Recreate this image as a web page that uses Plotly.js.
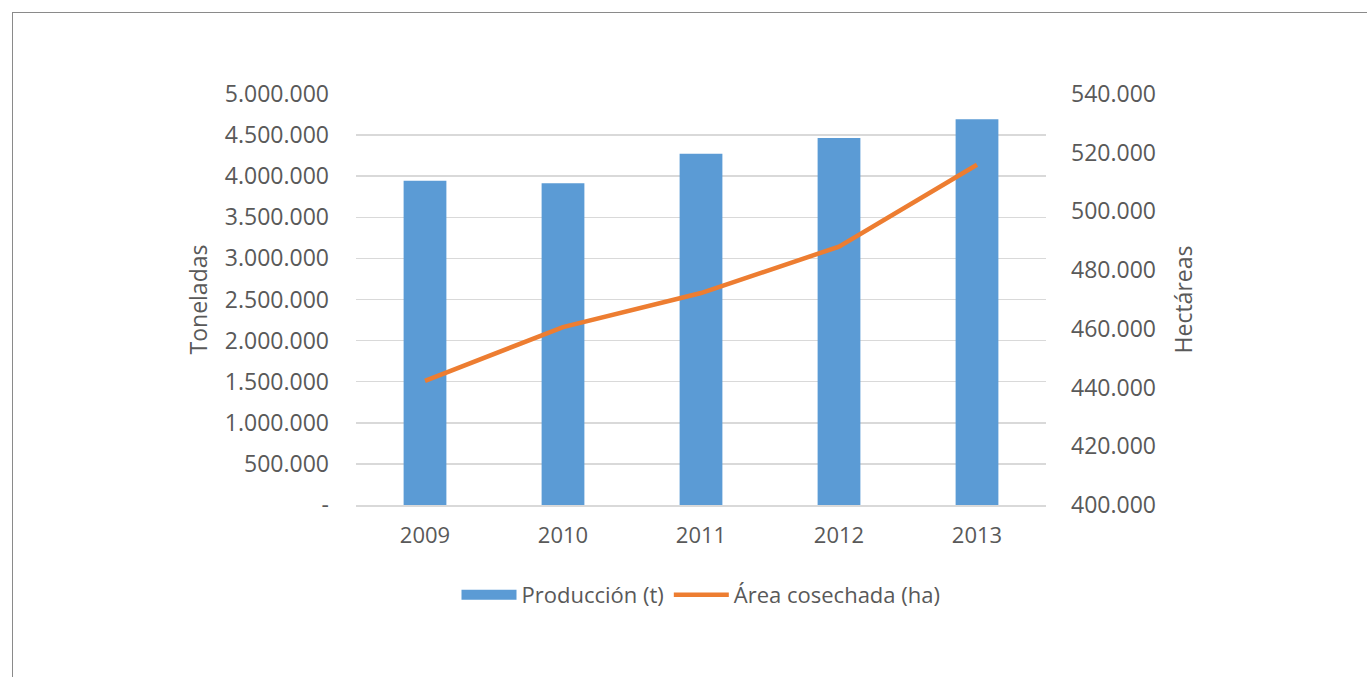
<!DOCTYPE html>
<html>
<head>
<meta charset="utf-8">
<script src="https://cdn.plot.ly/plotly-3.0.1.min.js"></script>
<style>
html,body{margin:0;padding:0;background:#fff;}
#frame{position:absolute;left:12px;top:12px;width:2000px;height:2000px;border-top:1px solid #8a8a8a;border-left:1px solid #8a8a8a;pointer-events:none;z-index:5;}
#chart{width:1367px;height:677px;}
</style>
</head>
<body>
<div id="frame"></div>
<div id="chart"></div>
<script>
const years = ['2009','2010','2011','2012','2013'];
const produccion = [3946000, 3913000, 4272000, 4466000, 4693000];
const areaCosechada = [442300, 460600, 472200, 488000, 515900];
const leftTickVals = [0,500000,1000000,1500000,2000000,2500000,3000000,3500000,4000000,4500000,5000000];
const leftTickText = ['-','500.000','1.000.000','1.500.000','2.000.000','2.500.000','3.000.000','3.500.000','4.000.000','4.500.000','5.000.000'];
const rightTickVals = [400000,420000,440000,460000,480000,500000,520000,540000];
const rightTickText = ['400.000','420.000','440.000','460.000','480.000','500.000','520.000','540.000'];

const fontFam = 'Open Sans, sans-serif';
const txtCol = '#595959';
const barColor = '#5B9BD5';
const lineColor = '#ED7D31';

const traces = [
  {type:'bar', x:years, y:produccion, name:'Producción (t)', marker:{color:barColor}, yaxis:'y', showlegend:false},
  {type:'scatter', mode:'lines', x:[null], y:[null], name:'Producción (t)', line:{color:barColor, width:13}, yaxis:'y', showlegend:true, hoverinfo:'skip'},
  {type:'scatter', mode:'lines', x:years, y:areaCosechada, name:'Área cosechada (ha)', line:{color:lineColor, width:4.5}, yaxis:'y2'}
];

const layout = {
  width:1367, height:677,
  margin:{l:356, r:321, t:94, b:172},
  paper_bgcolor:'#fff', plot_bgcolor:'#fff',
  font:{family:fontFam, size:22, color:txtCol},
  bargap:0.69,
  showlegend:true,
  legend:{orientation:'h', x:0.5, xanchor:'center', y:-0.219, yanchor:'middle', font:{size:22, color:txtCol}, traceorder:'normal', itemwidth:55},
  xaxis:{type:'category', showgrid:false, zeroline:false, showline:true, linecolor:'#D9D9D9', linewidth:1.5, ticks:'', ticklabelstandoff:10, tickfont:{size:22, color:txtCol}},
  yaxis:{range:[0,5000000], tickvals:leftTickVals, ticktext:leftTickText, showgrid:true, gridcolor:'#D9D9D9', gridwidth:1.5, zeroline:false, ticks:'', ticklabelstandoff:26, tickfont:{size:23, color:txtCol}, title:{text:'Toneladas', font:{size:23, color:txtCol}, standoff:10}},
  yaxis2:{range:[400000,540000], overlaying:'y', side:'right', tickvals:rightTickVals, ticktext:rightTickText, showgrid:false, zeroline:false, ticks:'', ticklabelstandoff:24, tickfont:{size:23, color:txtCol}, title:{text:'Hectáreas', font:{size:23, color:txtCol}, standoff:20}}
};

Plotly.newPlot('chart', traces, layout, {displayModeBar:false, staticPlot:true});
</script>
</body>
</html>
